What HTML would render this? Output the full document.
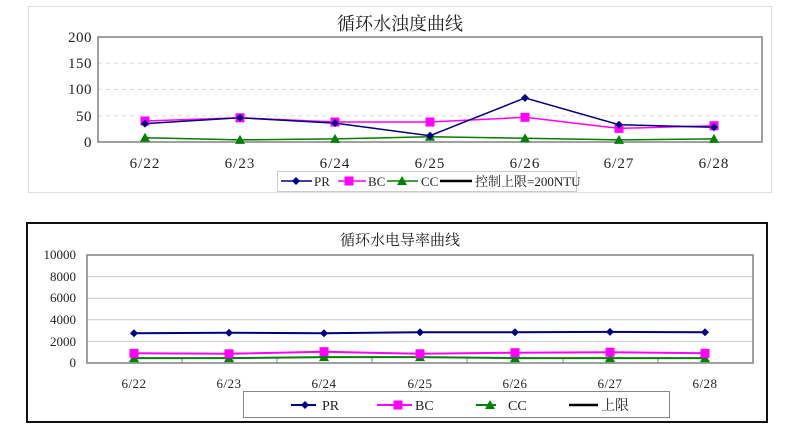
<!DOCTYPE html>
<html><head><meta charset="utf-8"><style>
body{margin:0;background:#fff;}
svg{display:block;font-family:"Liberation Serif","Noto Serif CJK SC",serif;}
</style></head><body>
<svg width="800" height="440" xmlns="http://www.w3.org/2000/svg">
<defs>
<g id="d"><path d="M0,-4 L4,0 L0,4 L-4,0Z" fill="#000080"/></g>
<g id="s"><rect x="-4.5" y="-4.5" width="9" height="9" fill="#ff00ff"/></g>
<g id="t"><path d="M0,-5 L5,4 L-5,4Z" fill="#008000"/></g>
</defs>
<!-- Chart 1 -->
<rect x="28.5" y="6.5" width="743" height="186" fill="#fff" stroke="#ddd"/>
<text x="400" y="30" font-size="18" text-anchor="middle" fill="#222">循环水浊度曲线</text>
<g stroke="#ddd" stroke-dasharray="4,4">
<line x1="98" y1="63.25" x2="762" y2="63.25"/><line x1="98" y1="89.5" x2="762" y2="89.5"/><line x1="98" y1="115.75" x2="762" y2="115.75"/>
</g>
<rect x="98" y="37" width="664" height="105" fill="none" stroke="#808080" stroke-width="1.5"/>
<g font-size="15" text-anchor="end" fill="#222" letter-spacing="0.5">
<text x="92" y="42">200</text><text x="92" y="68">150</text><text x="92" y="94">100</text><text x="92" y="121">50</text><text x="92" y="147">0</text>
</g>
<g font-size="15" text-anchor="middle" fill="#222" letter-spacing="1">
<text x="145" y="168">6/22</text><text x="240" y="168">6/23</text><text x="335" y="168">6/24</text><text x="430" y="168">6/25</text><text x="525" y="168">6/26</text><text x="619" y="168">6/27</text><text x="714" y="168">6/28</text>
</g>
<polyline fill="none" stroke="#008000" stroke-width="1.5" points="145,137.8 240,139.9 335,138.9 430,136.8 525,138.3 619,139.9 714,138.9"/>
<polyline fill="none" stroke="#ff00ff" stroke-width="1.5" points="145,121 240,117.8 335,122 430,122 525,117.3 619,128.4 714,125.7"/>
<polyline fill="none" stroke="#000080" stroke-width="1.5" points="145,123.6 240,117.8 335,123.1 430,135.7 525,97.9 619,124.7 714,127.3"/>
<g><use href="#t" x="145" y="137.8"/><use href="#t" x="240" y="139.9"/><use href="#t" x="335" y="138.9"/><use href="#t" x="430" y="136.8"/><use href="#t" x="525" y="138.3"/><use href="#t" x="619" y="139.9"/><use href="#t" x="714" y="138.9"/></g>
<g><use href="#s" x="145" y="121"/><use href="#s" x="240" y="117.8"/><use href="#s" x="335" y="122"/><use href="#s" x="430" y="122"/><use href="#s" x="525" y="117.3"/><use href="#s" x="619" y="128.4"/><use href="#s" x="714" y="125.7"/></g>
<g><use href="#d" x="145" y="123.6"/><use href="#d" x="240" y="117.8"/><use href="#d" x="335" y="123.1"/><use href="#d" x="430" y="135.7"/><use href="#d" x="525" y="97.9"/><use href="#d" x="619" y="124.7"/><use href="#d" x="714" y="127.3"/></g>
<rect x="277.5" y="171.5" width="299" height="20" fill="#fff" stroke="#ccc"/>
<g font-size="13" fill="#222">
<line x1="281" y1="181" x2="312" y2="181" stroke="#000080" stroke-width="1.5"/><use href="#d" x="296" y="181"/><text x="314" y="186">PR</text>
<line x1="338" y1="181" x2="366" y2="181" stroke="#ff00ff" stroke-width="1.5"/><use href="#s" x="349" y="181"/><text x="368" y="186">BC</text>
<line x1="387" y1="181" x2="418" y2="181" stroke="#008000" stroke-width="1.5"/><use href="#t" x="402" y="181"/><text x="421" y="186">CC</text>
<line x1="440" y1="181" x2="472" y2="181" stroke="#000" stroke-width="2.5"/><text x="475" y="186">控制上限=200NTU</text>
</g>
<!-- Chart 2 -->
<rect x="27" y="223" width="740" height="199" fill="#fff" stroke="#111" stroke-width="2"/>
<text x="400" y="245" font-size="15" text-anchor="middle" fill="#222">循环水电导率曲线</text>
<g stroke="#ccc">
<line x1="87" y1="276.6" x2="753" y2="276.6"/><line x1="87" y1="298.2" x2="753" y2="298.2"/><line x1="87" y1="319.8" x2="753" y2="319.8"/><line x1="87" y1="341.4" x2="753" y2="341.4"/>
</g>
<rect x="87" y="255" width="666" height="108" fill="none" stroke="#808080" stroke-width="1.5"/>
<g stroke="#808080"><line x1="182" y1="358" x2="182" y2="363"/><line x1="277" y1="358" x2="277" y2="363"/><line x1="372" y1="358" x2="372" y2="363"/><line x1="467" y1="358" x2="467" y2="363"/><line x1="563" y1="358" x2="563" y2="363"/><line x1="658" y1="358" x2="658" y2="363"/></g>
<g font-size="13" text-anchor="end" fill="#222">
<text x="76" y="259">10000</text><text x="76" y="281">8000</text><text x="76" y="302">6000</text><text x="76" y="324">4000</text><text x="76" y="346">2000</text><text x="76" y="367">0</text>
</g>
<g font-size="13" text-anchor="middle" fill="#222" letter-spacing="0.5">
<text x="134" y="388">6/22</text><text x="229" y="388">6/23</text><text x="324" y="388">6/24</text><text x="420" y="388">6/25</text><text x="515" y="388">6/26</text><text x="610" y="388">6/27</text><text x="705" y="388">6/28</text>
</g>
<polyline fill="none" stroke="#008000" stroke-width="2" points="134,358.1 229,358.1 324,357.1 420,357.1 515,358.1 610,358.1 705,358.1"/>
<polyline fill="none" stroke="#ff00ff" stroke-width="2" points="134,353.3 229,353.8 324,351.7 420,353.8 515,352.7 610,352.2 705,353.3"/>
<polyline fill="none" stroke="#000080" stroke-width="2" points="134,333.3 229,332.8 324,333.3 420,332.2 515,332.2 610,331.9 705,332.2"/>
<g><use href="#t" x="134" y="358.1"/><use href="#t" x="229" y="358.1"/><use href="#t" x="324" y="357.1"/><use href="#t" x="420" y="357.1"/><use href="#t" x="515" y="358.1"/><use href="#t" x="610" y="358.1"/><use href="#t" x="705" y="358.1"/></g>
<g><use href="#s" x="134" y="353.3"/><use href="#s" x="229" y="353.8"/><use href="#s" x="324" y="351.7"/><use href="#s" x="420" y="353.8"/><use href="#s" x="515" y="352.7"/><use href="#s" x="610" y="352.2"/><use href="#s" x="705" y="353.3"/></g>
<g><use href="#d" x="134" y="333.3"/><use href="#d" x="229" y="332.8"/><use href="#d" x="324" y="333.3"/><use href="#d" x="420" y="332.2"/><use href="#d" x="515" y="332.2"/><use href="#d" x="610" y="331.9"/><use href="#d" x="705" y="332.2"/></g>
<rect x="243.5" y="391.5" width="426" height="26" fill="#fff" stroke="#888"/>
<g font-size="14" fill="#222">
<line x1="291" y1="405" x2="316" y2="405" stroke="#000080" stroke-width="2"/><use href="#d" x="305" y="405"/><text x="322" y="410">PR</text>
<line x1="377" y1="405" x2="412" y2="405" stroke="#ff00ff" stroke-width="2"/><use href="#s" x="398" y="405"/><text x="415" y="410">BC</text>
<line x1="476" y1="405" x2="496" y2="405" stroke="#008000" stroke-width="2"/><use href="#t" x="490" y="405"/><text x="508" y="410">CC</text>
<line x1="569" y1="405" x2="598" y2="405" stroke="#000" stroke-width="2.5"/><text x="601" y="410">上限</text>
</g>
</svg>
</body></html>
